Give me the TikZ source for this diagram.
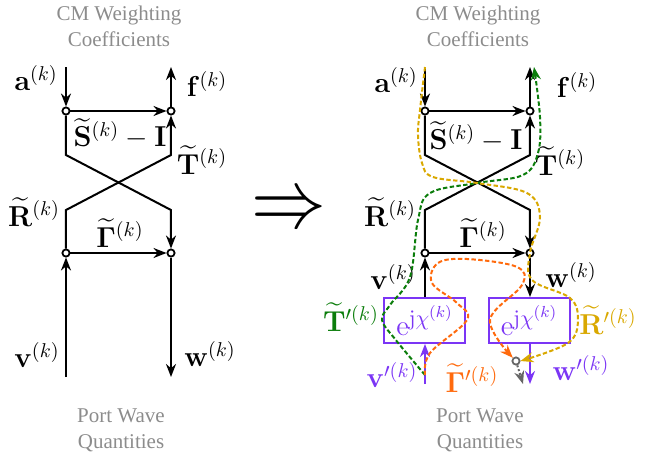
\documentclass[tikz,border=0pt]{standalone}
\usepackage{amsmath,amssymb}
\usepackage[no-math]{fontspec}
\newfontfamily\capfont{Liberation Serif}
\usetikzlibrary{arrows.meta}
\definecolor{cmgray}{HTML}{8C8C8C}
\definecolor{tgreen}{HTML}{0B7D0B}
\definecolor{ryellow}{HTML}{D9A800}
\definecolor{gorange}{HTML}{FF6A0D}
\definecolor{vpurple}{HTML}{7B35F5}
\newcommand{\lbl}[1]{$#1^{(k)}$}
\begin{document}
\begin{tikzpicture}[x=0.5pt,y=-0.5pt,font=\Large,line width=1pt,>={Stealth[length=6.5pt,width=5pt]},
  every node/.style={inner sep=0pt},
  junction/.style={circle,draw,fill=white,inner sep=0pt,minimum size=3.6pt,line width=0.9pt},
  caption/.style={font=\capfont\fontsize{10.5}{13}\selectfont,text=cmgray,align=center},
  phasebox/.style={draw=vpurple,line width=1pt,minimum width=40.5pt,minimum height=22.5pt,inner sep=0pt,text=vpurple,font=\fontsize{15.5}{18}\selectfont},
  trace/.style={line width=1pt,dash pattern=on 2.2pt off 1.2pt}]
\useasboundingbox (0,0) rectangle (661,457);
\foreach \p/\x/\cx in {l/66/119,r/425/478}{
  \node[caption] (top\p) at (\cx,26) {CM Weighting\\Coefficients};
  \node[caption] (port\p) at (\cx+2,430) {Port Wave\\Quantities};
  \coordinate (a\p) at (\x,67);
  \coordinate (f\p) at (\x+105,67);
  \coordinate (ku\p) at (\x,155);
  \coordinate (kv\p) at (\x+105,155);
  \coordinate (kr\p) at (\x,210);
  \coordinate (ks\p) at (\x+105,210);
  \node[junction] (na\p) at (\x,111) {};
  \node[junction] (nf\p) at (\x+105,111) {};
  \node[junction] (nv\p) at (\x,253) {};
  \node[junction] (nw\p) at (\x+105,253) {};
  \draw[->] (a\p)--(na\p);
  \draw[->] (na\p)--(nf\p);
  \draw[->] (nf\p)--(f\p);
  \draw[->] (na\p)--(ku\p)--(ks\p)--(nw\p);
  \draw[->] (nv\p)--(kr\p)--(kv\p)--(nf\p);
  \draw[->] (nv\p)--(nw\p);
}
% port side, left
\coordinate (vl) at (66,377);
\coordinate (wl) at (171,377);
\draw[->] (vl)--(nvl);
\draw[->] (nwl)--(wl);
\node (la) at (36,78) {\lbl{\mathbf{a}}};
\node (lf) at (207,84) {\lbl{\mathbf{f}}};
\node (ls) at (120,134) {$\widetilde{\mathbf{S}}^{(k)}-\mathbf{I}$};
\node (lt) at (202,160) {\lbl{\widetilde{\mathbf{T}}}};
\node (lr) at (34,212) {\lbl{\widetilde{\mathbf{R}}}};
\node (lg) at (120,233) {\lbl{\widetilde{\mathbf{\Gamma}}}};
\node (lv) at (37,355) {\lbl{\mathbf{v}}};
\node (lw) at (210,354) {\lbl{\mathbf{w}}};
\node (imp) at (289,212) {\scalebox{2.6}[2.9]{$\Rightarrow$}};
% port side, right
\node[phasebox] (pl) at (425,320.5) {$\mathrm{e}^{\mathrm{j}\chi^{(k)}}$};
\node[phasebox] (pr) at (529.5,320.5) {$\mathrm{e}^{\mathrm{j}\chi^{(k)}}$};
\node[junction,draw=black!60] (nout) at (516,361) {};
\coordinate (vp) at (425,384);
\coordinate (wp) at (530,384);
\coordinate (gp) at (523,384);
\coordinate (src) at (425,375);
\coordinate (fg) at (534,67);
\draw[->] (pl.north)--(nvr);
\draw[->] (nwr)--(pr.north-|nwr);
\draw[->,vpurple] (vp)--(pl.south);
\draw[->,vpurple] (pr.south-|wp)--(wp);
\draw[->,black!60,densely dotted] (nout)--(gp);
\node (ra) at (396,80) {\lbl{\mathbf{a}}};
\node (rf) at (577,85) {\lbl{\mathbf{f}}};
\node (rs) at (476,137) {$\widetilde{\mathbf{S}}^{(k)}-\mathbf{I}$};
\node (rt) at (560,161) {\lbl{\widetilde{\mathbf{T}}}};
\node (rr) at (390,212) {\lbl{\widetilde{\mathbf{R}}}};
\node (rg) at (483,233) {\lbl{\widetilde{\mathbf{\Gamma}}}};
\node (rv) at (393,277) {\lbl{\mathbf{v}}};
\node (rw) at (571,275) {\lbl{\mathbf{w}}};
\node[text=tgreen] (tp) at (351,317) {$\widetilde{\mathbf{T}}'^{(k)}$};
\node[text=ryellow] (rp) at (608,320) {$\widetilde{\mathbf{R}}'^{(k)}$};
\node[text=vpurple] (vq) at (392,375) {$\mathbf{v}'^{(k)}$};
\node[text=gorange] (gq) at (472,378) {$\widetilde{\mathbf{\Gamma}}'^{(k)}$};
\node[text=vpurple] (wq) at (581,368) {$\mathbf{w}'^{(k)}$};
% traces
\draw[trace,tgreen,->] plot[smooth,tension=.6] coordinates {(src) (395,339) (382,320) (390,305) (410,277) (418,220) (430,193) (477,183) (523,175) (538,153) (540,117) (fg)};
\draw[trace,ryellow,->] plot[smooth,tension=.6] coordinates {(ar) (420,110) (418,135) (422,163) (433,177) (477,183) (527,193) (540,217) (530,253) (532,280) (570,298) (578,320) (568,343) (nout.east)};
\draw[trace,gorange,->] plot[smooth,tension=.6] coordinates {(src) (430,353) (467,320) (457,303) (432,283) (438,263) (467,259) (517,267) (522,285) (490,320) (nout.north west)};
\end{tikzpicture}
\end{document}
